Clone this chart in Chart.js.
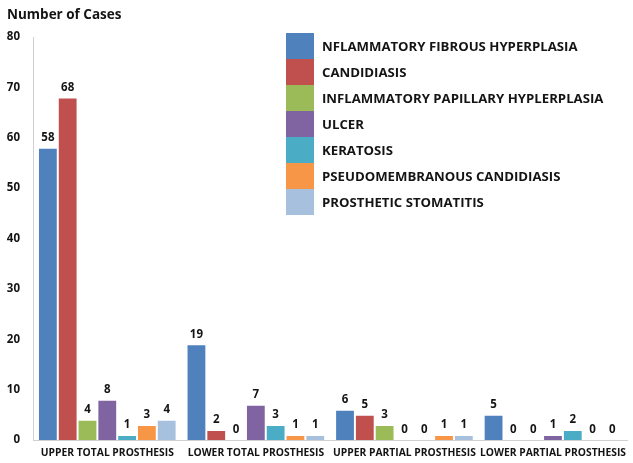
<!DOCTYPE html>
<html>
<head>
<meta charset="utf-8">
<script src="https://cdn.jsdelivr.net/npm/chart.js@4.4.1/dist/chart.umd.min.js"></script>
<style>
  html, body { margin: 0; padding: 0; background: #fff; }
  #wrap { width: 633px; height: 463px; }
</style>
</head>
<body>
<div id="wrap"><canvas id="casesChart" width="633" height="463"></canvas></div>
<script>
// data
const categories = ['UPPER TOTAL PROSTHESIS', 'LOWER TOTAL PROSTHESIS', 'UPPER PARTIAL PROSTHESIS', 'LOWER PARTIAL PROSTHESIS'];
const seriesNames = [
  'NFLAMMATORY FIBROUS HYPERPLASIA',
  'CANDIDIASIS',
  'INFLAMMATORY PAPILLARY HYPLERPLASIA',
  'ULCER',
  'KERATOSIS',
  'PSEUDOMEMBRANOUS CANDIDIASIS',
  'PROSTHETIC STOMATITIS'
];
const fibrousHyperplasia = [58, 19, 6, 5];
const candidiasis = [68, 2, 5, 0];
const papillaryHyperplasia = [4, 0, 3, 0];
const ulcer = [8, 7, 0, 1];
const keratosis = [1, 3, 0, 2];
const pseudomembranous = [3, 1, 1, 0];
const stomatitis = [4, 1, 1, 0];
const yTicks = [0, 10, 20, 30, 40, 50, 60, 70, 80];

const seriesValues = [fibrousHyperplasia, candidiasis, papillaryHyperplasia, ulcer, keratosis, pseudomembranous, stomatitis];
const colors = ['#4F81BD', '#C0504D', '#9BBB59', '#8064A2', '#4BACC6', '#F79646', '#A7C0DE'];

const FONT = "'Open Sans', 'Liberation Sans', sans-serif";
const INK = '#141414';

// value labels over each bar
const valueLabels = {
  id: 'valueLabels',
  afterDatasetsDraw(chart) {
    const ctx = chart.ctx;
    ctx.save();
    ctx.font = 'bold 11.5px ' + FONT;
    ctx.fillStyle = INK;
    ctx.textAlign = 'center';
    ctx.textBaseline = 'middle';
    chart.data.datasets.forEach((ds, i) => {
      chart.getDatasetMeta(i).data.forEach((bar, j) => {
        ctx.fillText(ds.data[j], bar.x, bar.y - 10);
      });
    });
    ctx.restore();
  }
};

// legend drawn as one stacked strip of colour blocks
const blockLegend = {
  id: 'blockLegend',
  afterDraw(chart) {
    const ctx = chart.ctx;
    const x = 286, top = 33, w = 28, h = 26;
    ctx.save();
    ctx.font = 'bold 13.2px ' + FONT;
    ctx.textAlign = 'left';
    ctx.textBaseline = 'middle';
    chart.data.datasets.forEach((ds, i) => {
      ctx.fillStyle = ds.backgroundColor;
      ctx.fillRect(x, top + i * h, w, h);
      ctx.fillStyle = INK;
      ctx.fillText(ds.label, 322, top + i * h + h / 2 + 1);
    });
    ctx.restore();
  }
};

// "Number of Cases" header at top left
const axisHeader = {
  id: 'axisHeader',
  afterDraw(chart) {
    const ctx = chart.ctx;
    ctx.save();
    ctx.font = 'bold 13.5px ' + FONT;
    ctx.fillStyle = INK;
    ctx.textAlign = 'left';
    ctx.textBaseline = 'middle';
    ctx.fillText('Number of Cases', 7, 15);
    ctx.restore();
  }
};

const ctx = document.getElementById('casesChart').getContext('2d');
new Chart(ctx, {
  type: 'bar',
  data: {
    labels: categories,
    datasets: seriesNames.map((name, i) => ({
      label: name,
      data: seriesValues[i],
      backgroundColor: colors[i],
      borderColor: 'rgba(255,255,255,0.3)',
      borderWidth: 1,
      categoryPercentage: 0.933,
      barPercentage: 1
    }))
  },
  options: {
    responsive: false,
    animation: false,
    layout: { padding: { top: 37, left: 0, right: 0, bottom: 0 } },
    scales: {
      x: {
        grid: { display: false, drawTicks: false },
        border: { color: '#d0d0d0', width: 1 },
        ticks: {
          color: INK,
          font: { family: FONT, size: 10.3, weight: 'bold' },
          padding: 7,
          maxRotation: 0,
          autoSkip: false
        },
        afterFit(scale) { scale.height = 23; }
      },
      y: {
        min: 0,
        max: 80,
        grid: { display: false, drawTicks: false },
        border: { color: '#d0d0d0', width: 1 },
        afterBuildTicks(scale) { scale.ticks = yTicks.map(v => ({ value: v })); },
        ticks: {
          color: INK,
          font: { family: FONT, size: 11.5, weight: 'bold' },
          padding: 13
        },
        afterFit(scale) { scale.width = 33; }
      }
    },
    plugins: {
      legend: { display: false },
      tooltip: { enabled: false }
    }
  },
  plugins: [valueLabels, blockLegend, axisHeader]
});
</script>
</body>
</html>
